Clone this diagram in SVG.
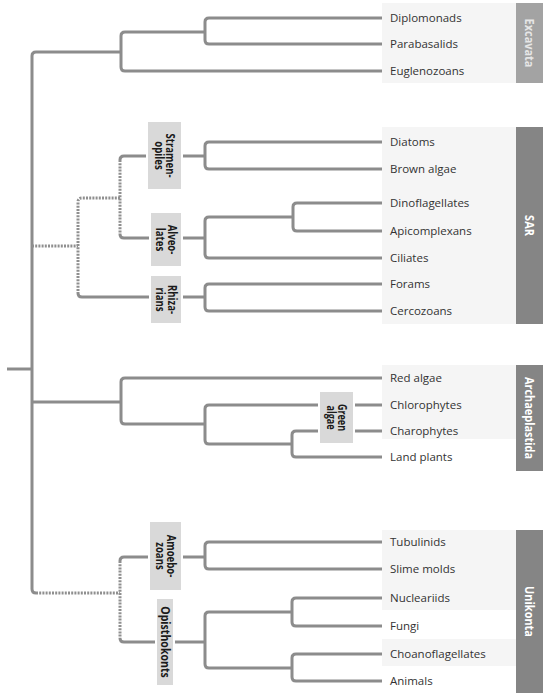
<svg xmlns="http://www.w3.org/2000/svg" width="547" height="696" viewBox="0 0 547 696">
<style>
.ln{fill:none;stroke:#8c8c8c;stroke-width:3;stroke-linecap:butt;stroke-linejoin:round}
.dt{fill:none;stroke:#8f8f8f;stroke-width:3;stroke-dasharray:2 1.2}
.bg{fill:#f5f5f5}
.bar{fill:#858585}
.bar.light{fill:#a3a3a3}
.halo{fill:#ffffff}
.box{fill:#d9d9d9}
.leaf{font-family:"Open Sans","Liberation Sans",sans-serif;font-size:11.5px;fill:#333333}
.clade{font-family:"Open Sans","Liberation Sans",sans-serif;font-size:12px;font-weight:bold;fill:#1a1a1a;text-anchor:middle}
.grp{font-family:"Open Sans","Liberation Sans",sans-serif;font-size:12.5px;font-weight:bold;fill:#ffffff;text-anchor:middle}
.grp.light{fill:#e6e6e6}
</style>
<rect width="547" height="696" fill="#ffffff"/>

<g id="backgrounds">
<rect class="bg" x="382" y="3" width="134" height="80"/>
<rect class="bg" x="382" y="127" width="134" height="197"/>
<rect class="bg" x="382" y="365" width="134" height="74"/>
<rect class="bg" x="382" y="530" width="134" height="80"/>
<rect class="bg" x="382" y="639" width="134" height="27"/>
</g>

<g id="connectors">
<path class="ln" d="M7 369 H32"/>
<path class="ln" d="M121 52 H36 Q32 52 32 56 V589 Q32 593 36 593"/>
<path class="ln" d="M205 32 H125 Q121 32 121 36 V67 Q121 71 125 71 H382"/>
<path class="ln" d="M382 18 H209 Q205 18 205 22 V40 Q205 44 209 44 H382"/>
<path class="dt" d="M32 246 H78"/>
<path class="dt" d="M120 198 H82 Q78 198 78 202 V293"/>
<path class="ln" d="M78 293 Q78 297 82 297 H205"/>
<path class="dt" d="M120 160 V234"/>
<path class="ln" d="M120 160 Q120 156 124 156 H205"/>
<path class="ln" d="M120 234 Q120 238 124 238 H205"/>
<path class="ln" d="M382 142 H209 Q205 142 205 146 V165 Q205 169 209 169 H382"/>
<path class="ln" d="M293 217 H209 Q205 217 205 221 V254 Q205 258 209 258 H382"/>
<path class="ln" d="M382 203 H297 Q293 203 293 207 V227 Q293 231 297 231 H382"/>
<path class="ln" d="M382 284 H209 Q205 284 205 288 V307 Q205 311 209 311 H382"/>
<path class="ln" d="M32 402 H121"/>
<path class="ln" d="M382 378 H125 Q121 378 121 382 V420 Q121 424 125 424 H205"/>
<path class="ln" d="M382 405 H209 Q205 405 205 409 V440 Q205 444 209 444 H292"/>
<path class="ln" d="M382 431 H296 Q292 431 292 435 V453 Q292 457 296 457 H382"/>
<path class="dt" d="M36 593 H120"/>
<path class="dt" d="M120 561 V638"/>
<path class="ln" d="M120 561 Q120 557 124 557 H205"/>
<path class="ln" d="M120 638 Q120 642 124 642 H205"/>
<path class="ln" d="M382 542 H209 Q205 542 205 546 V565 Q205 569 209 569 H382"/>
<path class="ln" d="M292 612 H209 Q205 612 205 616 V664 Q205 668 209 668 H292"/>
<path class="ln" d="M382 598 H296 Q292 598 292 602 V622 Q292 626 296 626 H382"/>
<path class="ln" d="M382 654 H296 Q292 654 292 658 V677 Q292 681 296 681 H382"/>
</g>

<g id="clade-stramenopiles">
<rect class="halo" x="146" y="120" width="37" height="71"/>
<rect class="box" x="148" y="122" width="33" height="67"/>
<text class="clade" transform="translate(164.5 155.5) scale(1 0.8) rotate(90)"><tspan x="0" y="-1.8">Stramen-</tspan><tspan x="0" y="9.7">opiles</tspan></text>
</g>
<g id="clade-alveolates">
<rect class="halo" x="149" y="211" width="34" height="57"/>
<rect class="box" x="151" y="213" width="30" height="53"/>
<text class="clade" transform="translate(166 239.5) scale(1 0.8) rotate(90)"><tspan x="0" y="-1.8">Alveo-</tspan><tspan x="0" y="9.7">lates</tspan></text>
</g>
<g id="clade-rhizarians">
<rect class="halo" x="149" y="274" width="34" height="51"/>
<rect class="box" x="151" y="276" width="30" height="47"/>
<text class="clade" transform="translate(166 299.5) scale(1 0.8) rotate(90)"><tspan x="0" y="-1.8">Rhiza-</tspan><tspan x="0" y="9.7">rians</tspan></text>
</g>
<g id="clade-green-algae">
<rect class="halo" x="318" y="390" width="37" height="55"/>
<rect class="box" x="320" y="392" width="33" height="51"/>
<text class="clade" transform="translate(336.5 417.5) scale(1 0.75) rotate(90)"><tspan x="0" y="-1.8">Green</tspan><tspan x="0" y="9.7">algae</tspan></text>
</g>
<g id="clade-amoebozoans">
<rect class="halo" x="148" y="520" width="35" height="72"/>
<rect class="box" x="150" y="522" width="31" height="68"/>
<text class="clade" transform="translate(165.5 556) scale(1 0.8) rotate(90)"><tspan x="0" y="-1.8">Amoebo-</tspan><tspan x="0" y="9.7">zoans</tspan></text>
</g>
<g id="clade-opisthokonts">
<rect class="halo" x="155" y="597" width="20" height="90"/>
<rect class="box" x="157" y="599" width="16" height="86"/>
<text class="clade" transform="translate(165 642) scale(1 0.88) rotate(90)" y="4.2">Opisthokonts</text>
</g>

<g id="leaves">
<g id="leaf-diplomonads"><text class="leaf" x="390" y="22">Diplomonads</text></g>
<g id="leaf-parabasalids"><text class="leaf" x="390" y="48">Parabasalids</text></g>
<g id="leaf-euglenozoans"><text class="leaf" x="390" y="75">Euglenozoans</text></g>
<g id="leaf-diatoms"><text class="leaf" x="390" y="146">Diatoms</text></g>
<g id="leaf-brown-algae"><text class="leaf" x="390" y="173">Brown algae</text></g>
<g id="leaf-dinoflagellates"><text class="leaf" x="390" y="207">Dinoflagellates</text></g>
<g id="leaf-apicomplexans"><text class="leaf" x="390" y="235">Apicomplexans</text></g>
<g id="leaf-ciliates"><text class="leaf" x="390" y="262">Ciliates</text></g>
<g id="leaf-forams"><text class="leaf" x="390" y="288">Forams</text></g>
<g id="leaf-cercozoans"><text class="leaf" x="390" y="315">Cercozoans</text></g>
<g id="leaf-red-algae"><text class="leaf" x="390" y="382">Red algae</text></g>
<g id="leaf-chlorophytes"><text class="leaf" x="390" y="409">Chlorophytes</text></g>
<g id="leaf-charophytes"><text class="leaf" x="390" y="435">Charophytes</text></g>
<g id="leaf-land-plants"><text class="leaf" x="390" y="461">Land plants</text></g>
<g id="leaf-tubulinids"><text class="leaf" x="390" y="546">Tubulinids</text></g>
<g id="leaf-slime-molds"><text class="leaf" x="390" y="573">Slime molds</text></g>
<g id="leaf-nucleariids"><text class="leaf" x="390" y="602">Nucleariids</text></g>
<g id="leaf-fungi"><text class="leaf" x="390" y="630">Fungi</text></g>
<g id="leaf-choanoflagellates"><text class="leaf" x="390" y="658">Choanoflagellates</text></g>
<g id="leaf-animals"><text class="leaf" x="390" y="685">Animals</text></g>
</g>

<g id="group-excavata">
<rect class="bar light" x="516" y="3" width="27" height="80"/>
<text class="grp light" transform="translate(529.5 43) scale(1 0.875) rotate(90)" y="4.5">Excavata</text>
</g>
<g id="group-sar">
<rect class="bar" x="516" y="127" width="27" height="197"/>
<text class="grp" transform="translate(529.5 225.5) scale(1 0.875) rotate(90)" y="4.5">SAR</text>
</g>
<g id="group-archaeplastida">
<rect class="bar" x="516" y="365" width="27" height="106"/>
<text class="grp" transform="translate(529.5 418) scale(1 0.875) rotate(90)" y="4.5">Archaeplastida</text>
</g>
<g id="group-unikonta">
<rect class="bar" x="516" y="530" width="27" height="163"/>
<text class="grp" transform="translate(529.5 611.5) scale(1 0.875) rotate(90)" y="4.5">Unikonta</text>
</g>
</svg>
